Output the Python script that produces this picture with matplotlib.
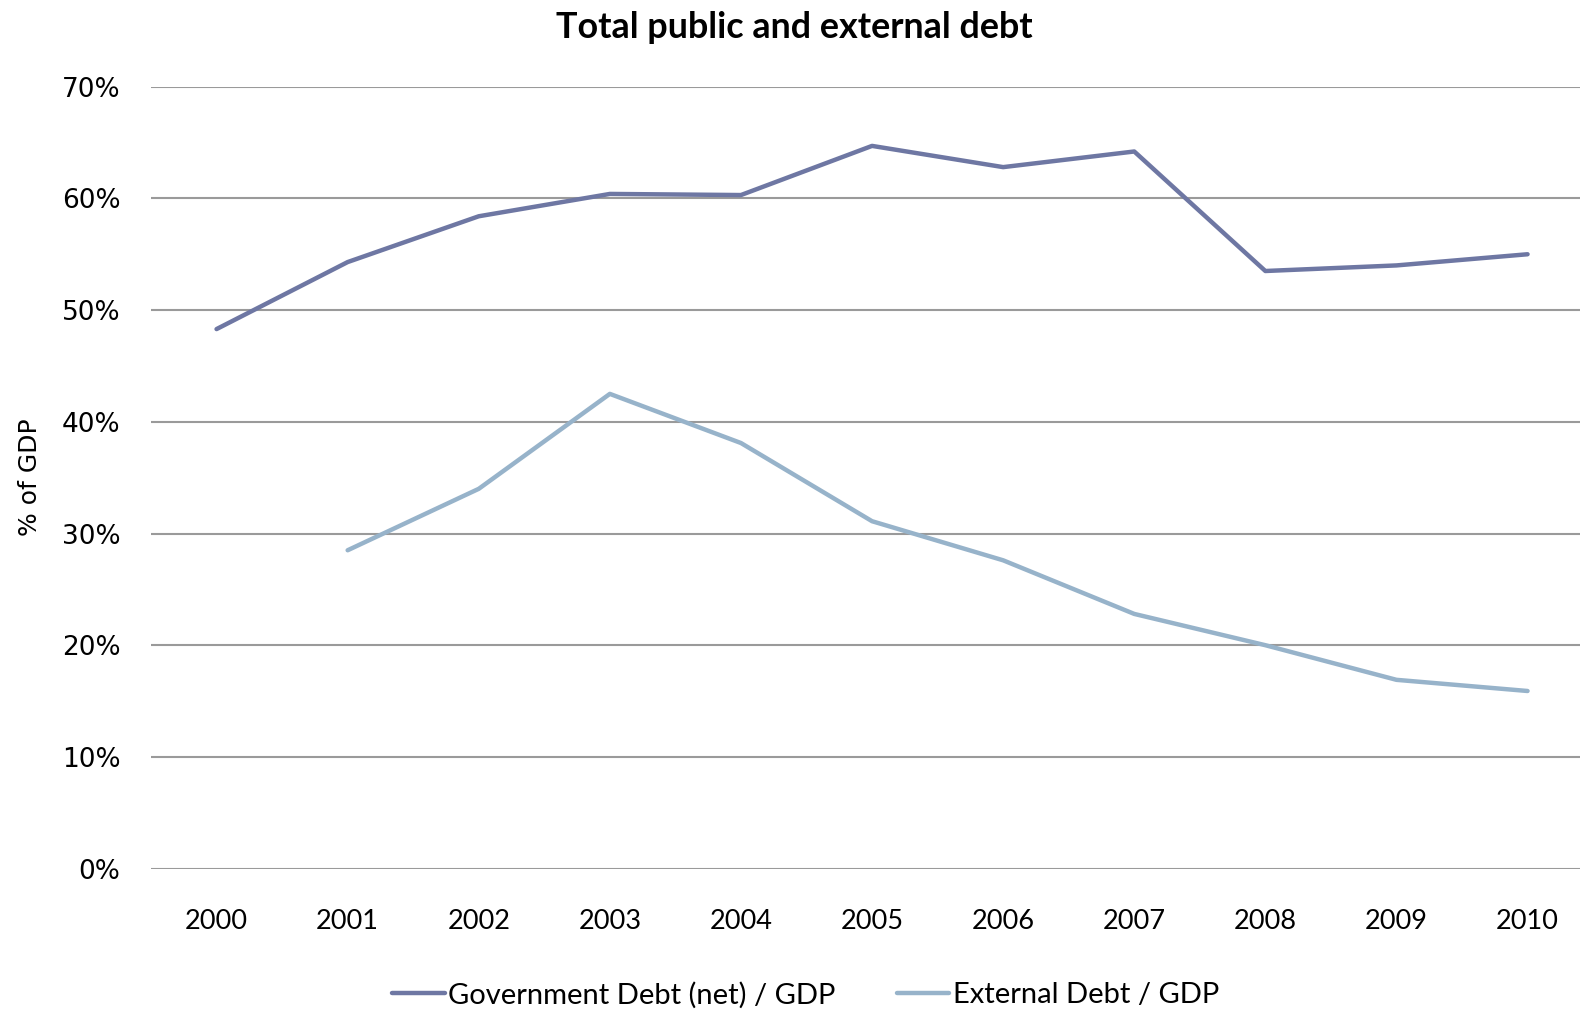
import matplotlib.pyplot as plt
from matplotlib.ticker import PercentFormatter

years = ["2000", "2001", "2002", "2003", "2004", "2005", "2006", "2007", "2008", "2009", "2010"]
gov_debt = [48.3, 54.3, 58.4, 60.4, 60.3, 64.7, 62.8, 64.2, 53.5, 54.0, 55.0]
ext_years = ["2001", "2002", "2003", "2004", "2005", "2006", "2007", "2008", "2009", "2010"]
ext_debt = [28.5, 34.0, 42.5, 38.1, 31.1, 27.6, 22.8, 20.0, 16.9, 15.9]

fig = plt.figure(figsize=(15.8, 10.1), dpi=100)
ax = fig.add_axes([151 / 1580, 141.4 / 1010, 1 - 151 / 1580, (923.3 - 141.4) / 1010])

x_gov = list(range(len(years)))
x_ext = [years.index(y) for y in ext_years]

ax.plot(x_gov, gov_debt, color="#6e77a3", lw=3.2, solid_capstyle="round",
        label="Government Debt (net) / GDP", zorder=3)
ax.plot(x_ext, ext_debt, color="#97b3ca", lw=3.2, solid_capstyle="round",
        label="External Debt / GDP", zorder=3)

ax.set_xlim(-0.5, 10.4)
ax.set_ylim(0, 70)
ax.set_yticks(range(0, 71, 10))
ax.yaxis.set_major_formatter(PercentFormatter(decimals=0))
ax.set_xticks(x_gov)
ax.set_xticklabels(years, family="Lato", fontsize=19.5)
ax.tick_params(axis="y", labelsize=19, length=0, pad=22)
ax.tick_params(axis="x", length=0, pad=29)
for lab in ax.get_yticklabels():
    lab.set_family("DejaVu Sans")

ax.grid(axis="y", color="#9a9a9a", lw=1.5)
ax.set_axisbelow(True)
for s in ax.spines.values():
    s.set_visible(False)

ax.set_ylabel("% of GDP", fontsize=18, family="DejaVu Sans")
ax.yaxis.set_label_coords(-0.076, 0.5)

fig.text(0.503, 1 - 27 / 1010, "Total public and external debt", ha="center", va="center",
         family="Lato", fontweight="bold", fontsize=25.8)

fig.legend(loc="center", bbox_to_anchor=(0.510, 1 - 995 / 1010), ncol=2, frameon=False,
           prop={"family": "Lato", "size": 21}, handlelength=1.8, handletextpad=0.12,
           columnspacing=2.1)

fig.savefig("out.png", dpi=100)
